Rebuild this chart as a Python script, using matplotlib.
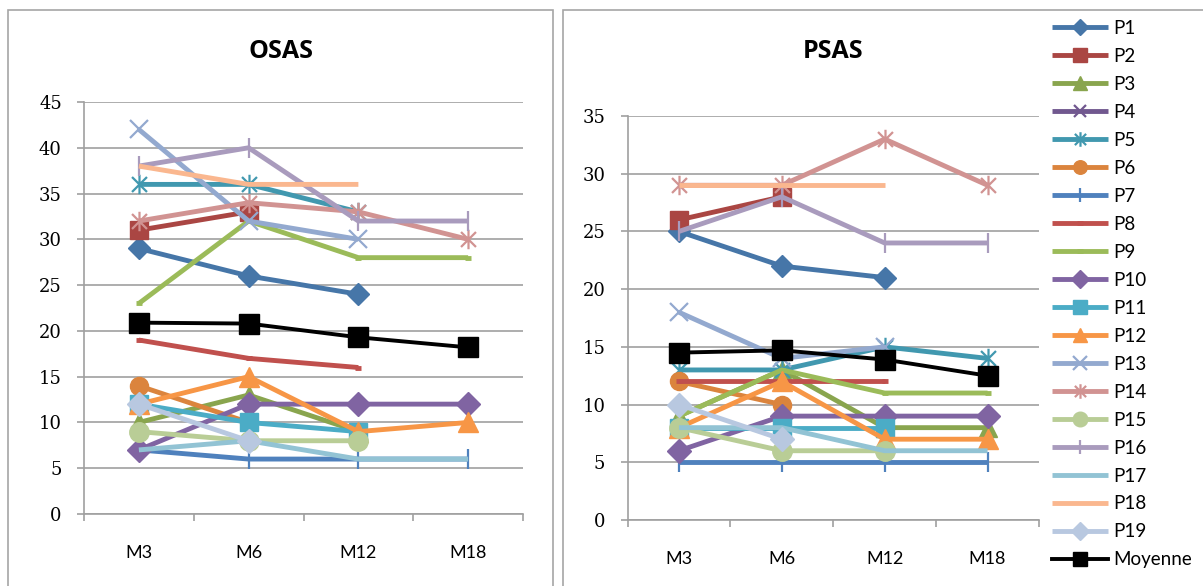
"""Suivi OSAS / PSAS par patient (M3 -> M18)."""

import matplotlib
matplotlib.use("Agg")
import matplotlib.pyplot as plt
import numpy as np
from matplotlib.path import Path
from matplotlib.patches import Rectangle

nan = np.nan

# Data
months = ["M3", "M6", "M12", "M18"]
patients = ["P1", "P2", "P3", "P4", "P5", "P6", "P7", "P8", "P9", "P10",
            "P11", "P12", "P13", "P14", "P15", "P16", "P17", "P18", "P19"]

osas = [
    [29, 26, 24, nan],   # P1
    [31, 33, nan, nan],  # P2
    [10, 13, 9, nan],    # P3
    [nan, nan, nan, nan],  # P4
    [36, 36, 33, nan],   # P5
    [14, 10, nan, nan],  # P6
    [7, 6, 6, 6],        # P7
    [19, 17, 16, nan],   # P8
    [23, 32, 28, 28],    # P9
    [7, 12, 12, 12],     # P10
    [12, 10, 9, nan],    # P11
    [12, 15, 9, 10],     # P12
    [42, 32, 30, nan],   # P13
    [32, 34, 33, 30],    # P14
    [9, 8, 8, nan],      # P15
    [38, 40, 32, 32],    # P16
    [7, 8, 6, 6],        # P17
    [38, 36, 36, nan],   # P18
    [12, 8, nan, nan],   # P19
]
osas_mean = [20.9, 20.8, 19.3, 18.2]

psas = [
    [25, 22, 21, nan],   # P1
    [26, 28, nan, nan],  # P2
    [9, 13, 8, 8],       # P3
    [nan, nan, nan, nan],  # P4
    [13, 13, 15, 14],    # P5
    [12, 10, nan, nan],  # P6
    [5, 5, 5, 5],        # P7
    [12, 12, 12, nan],   # P8
    [9, 13, 11, 11],     # P9
    [6, 9, 9, 9],        # P10
    [8, 8, 8, nan],      # P11
    [8, 12, 7, 7],       # P12
    [18, 14, 15, nan],   # P13
    [29, 29, 33, 29],    # P14
    [8, 6, 6, nan],      # P15
    [25, 28, 24, 24],    # P16
    [8, 8, 6, 6],        # P17
    [29, 29, 29, nan],   # P18
    [10, 7, nan, nan],   # P19
]
psas_mean = [14.5, 14.7, 13.9, 12.5]

# Styles (Excel 2007 palette)
colors = ["#4676A8", "#AA4643", "#89A54E", "#71588F", "#4198AF", "#DB843D",
          "#4F81BD", "#C0504D", "#9BBB59", "#8064A2", "#4BACC6", "#F79646",
          "#93A9CF", "#D19392", "#B9CD96", "#A99BBD", "#92C3D4", "#FAB78F",
          "#B8C8E0"]

# Excel-like asterisk: an X plus a vertical bar
star = Path([(-1, -1), (1, 1), (-1, 1), (1, -1), (0, -1.3), (0, 1.3)],
            [Path.MOVETO, Path.LINETO] * 3)

markers = ["D", "s", "^", "x", star, "o", "|", "_", "_", "D",
           "s", "^", "x", star, "o", "|", None, None, "D"]
msizes = [11, 13, 13, 11, 14, 13, 14, 5, 5, 12,
          13, 14, 13, 14, 14, 14, 0, 0, 12]

grid_col = "#A0A0A0"
serif = "DejaVu Serif"
sans = "Lato"

fig = plt.figure(figsize=(12.03, 5.86), dpi=100)
W, H = 1203, 586


def px_axes(x0, x1, ytop, ybot):
    return fig.add_axes([x0 / W, 1 - ybot / H, (x1 - x0) / W, (ybot - ytop) / H])


# Panel borders
for x0, x1 in [(8, 553), (563, 1210)]:
    fig.patches.append(Rectangle((x0 / W, -0.05), (x1 - x0) / W, 1.05 - 10 / H,
                                 transform=fig.transFigure, fill=False,
                                 edgecolor="#A6A6A6", lw=1.2))


def draw_panel(ax, data, mean, ymax, title, title_x):
    x = np.arange(len(months))
    handles = []
    for i, vals in enumerate(data):
        m = markers[i]
        kw = dict(color=colors[i], lw=3.5, solid_capstyle="butt")
        if m is not None:
            kw.update(marker=m, markersize=msizes[i], markerfacecolor=colors[i],
                      markeredgecolor=colors[i])
            if m in ("x", "|") or m is star:
                kw["markeredgewidth"] = 1.6
            elif m == "_":
                kw["markeredgewidth"] = 3.5
        h, = ax.plot(x, vals, label=patients[i], **kw)
        handles.append(h)
    h, = ax.plot(x, mean, color="black", lw=2.8, marker="s", markersize=14,
                 label="Moyenne")
    handles.append(h)

    ax.set_xlim(-0.5, len(months) - 0.5)
    ax.set_ylim(0, ymax)
    ax.set_yticks(np.arange(0, ymax + 1, 5))
    ax.set_xticks(x)
    ax.set_xticklabels(months, fontfamily=sans, fontsize=13)
    ax.set_xticks(np.arange(-0.5, len(months)), minor=True)
    ax.tick_params(axis="x", which="major", length=0, pad=22)
    ax.tick_params(axis="x", which="minor", length=5, width=1.2,
                   color=grid_col, direction="out")
    ax.tick_params(axis="y", length=5, width=1.2, color=grid_col, pad=11)
    for lab in ax.get_yticklabels():
        lab.set_fontfamily(serif)
        lab.set_fontsize(13)
    ax.grid(axis="y", color=grid_col, lw=1.2)
    ax.set_axisbelow(True)
    for s in ("top", "right"):
        ax.spines[s].set_visible(False)
    for s in ("left", "bottom"):
        ax.spines[s].set_color(grid_col)
        ax.spines[s].set_linewidth(1.2)
    fig.text(title_x / W, 1 - 52 / H, title, ha="center", va="center",
             fontfamily="Open Sans", fontweight="bold", fontsize=18)
    return handles


ax1 = px_axes(84, 523, 102, 514)
draw_panel(ax1, osas, osas_mean, 45, "OSAS", 281)

ax2 = px_axes(627.5, 1039, 116, 520)
handles = draw_panel(ax2, psas, psas_mean, 35, "PSAS", 833)

fig.legend(handles=handles, loc="upper left",
           bbox_to_anchor=(1052 / W, 1 - 20 / H), frameon=False,
           prop={"family": sans, "size": 13.5}, borderpad=0, borderaxespad=0,
           handlelength=3.0, handletextpad=0.25, labelspacing=0.585,
           markerscale=0.75)

fig.savefig("out.png", dpi=100)
